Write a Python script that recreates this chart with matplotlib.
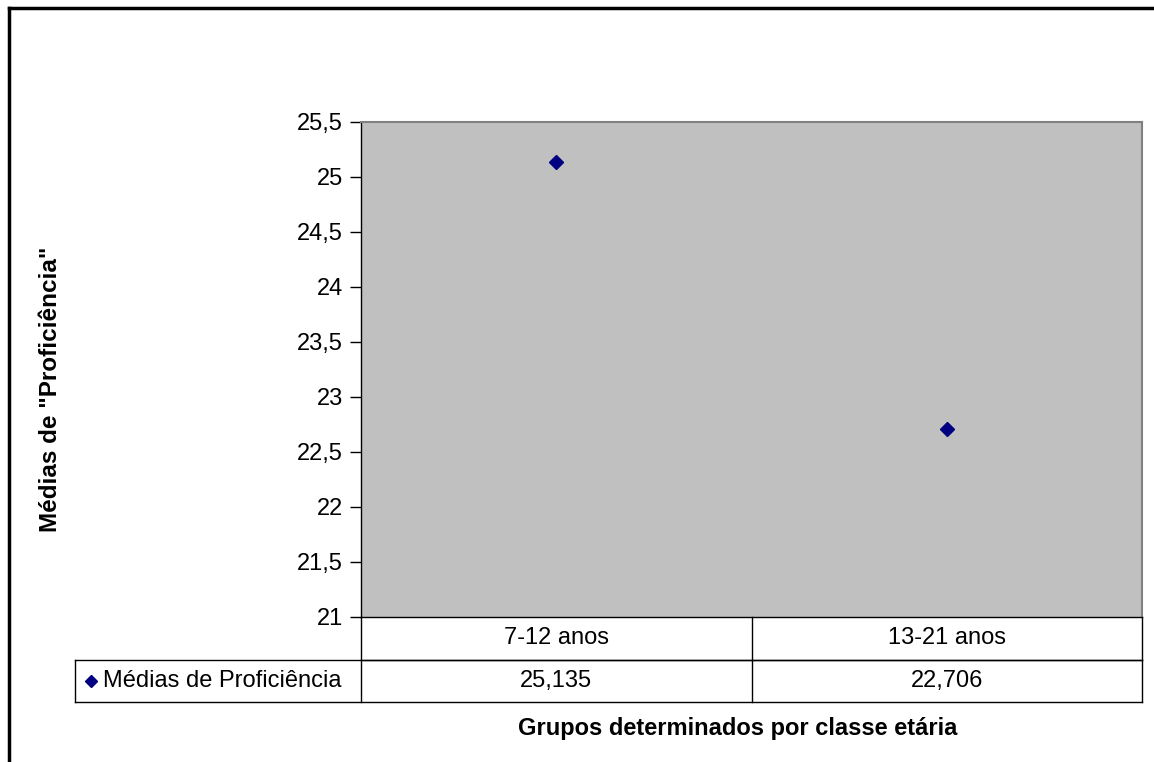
import numpy as np
import matplotlib.pyplot as plt
from matplotlib.lines import Line2D

plt.rcParams['font.family'] = ['Liberation Sans', 'DejaVu Sans']

categories = ['7-12 anos', '13-21 anos']
medias = [25.135, 22.706]
series_name = 'Médias de Proficiência'
value_labels = ['25,135', '22,706']
yticks = np.arange(21, 25.51, 0.5)

fig = plt.figure(figsize=(11.54, 7.62), dpi=100)
ax = fig.add_axes([361 / 1154, 1 - 617 / 762, 781 / 1154, 495 / 762])

x = np.arange(len(categories))
ax.plot(x, medias, linestyle='none', marker='D', markersize=7, color='#000080')

ax.set_xlim(-0.5, len(categories) - 0.5)
ax.set_ylim(21, 25.5)
ax.set_facecolor('#C0C0C0')
ax.set_yticks(yticks)
ax.set_yticklabels([('%g' % t).replace('.', ',') for t in yticks], fontsize=17)
ax.set_xticks([])
ax.tick_params(axis='y', direction='out', length=8, width=1, pad=5)
for s in ['top', 'right']:
    ax.spines[s].set_color('#808080')
    ax.spines[s].set_linewidth(1.5)
for s in ['left', 'bottom']:
    ax.spines[s].set_color('black')
    ax.spines[s].set_linewidth(1)

# data table under the axes (axes fraction coords)
r1 = -43 / 495
r2 = -85 / 495
left_cell = (75 - 361) / 781
tr = ax.transAxes
kw = dict(transform=tr, color='black', linewidth=1, clip_on=False)
ax.add_line(Line2D([0, 0], [0, r2], **kw))
ax.add_line(Line2D([1, 1], [0, r2], **kw))
ax.add_line(Line2D([0.5, 0.5], [0, r2], **kw))
ax.add_line(Line2D([0, 1], [r1, r1], **kw))
ax.add_line(Line2D([left_cell, 1], [r1, r1], **kw))
ax.add_line(Line2D([left_cell, 1], [r2, r2], **kw))
ax.add_line(Line2D([left_cell, left_cell], [r1, r2], **kw))

for i, c in enumerate(categories):
    xc = (i + 0.5) / len(categories)
    ax.text(xc, r1 / 2, c, transform=tr, ha='center', va='center', fontsize=17)
    ax.text(xc, (r1 + r2) / 2, value_labels[i], transform=tr, ha='center', va='center', fontsize=17)

ax.plot([(91 - 361) / 781], [(r1 + r2) / 2], transform=tr, marker='D', markersize=6,
        color='#000080', clip_on=False)
ax.text((103 - 361) / 781, (r1 + r2) / 2, series_name, transform=tr, ha='left', va='center', fontsize=17)

fig.text(738 / 1154, 1 - 728 / 762, 'Grupos determinados por classe etária',
         ha='center', va='center', fontsize=17, fontweight='bold')
fig.text(51 / 1154, 1 - 389 / 762, 'Médias de "Proficiência"', rotation=90,
         ha='center', va='center', fontsize=17.5, fontweight='bold')

# chart area border (left and top visible)
fig.add_artist(Line2D([9 / 1154, 9 / 1154], [0, 1 - 8 / 762], color='black', linewidth=2.5,
                      transform=fig.transFigure))
fig.add_artist(Line2D([9 / 1154, 1], [1 - 8 / 762, 1 - 8 / 762], color='black', linewidth=2.5,
                      transform=fig.transFigure))

fig.savefig('out.png', dpi=100)
